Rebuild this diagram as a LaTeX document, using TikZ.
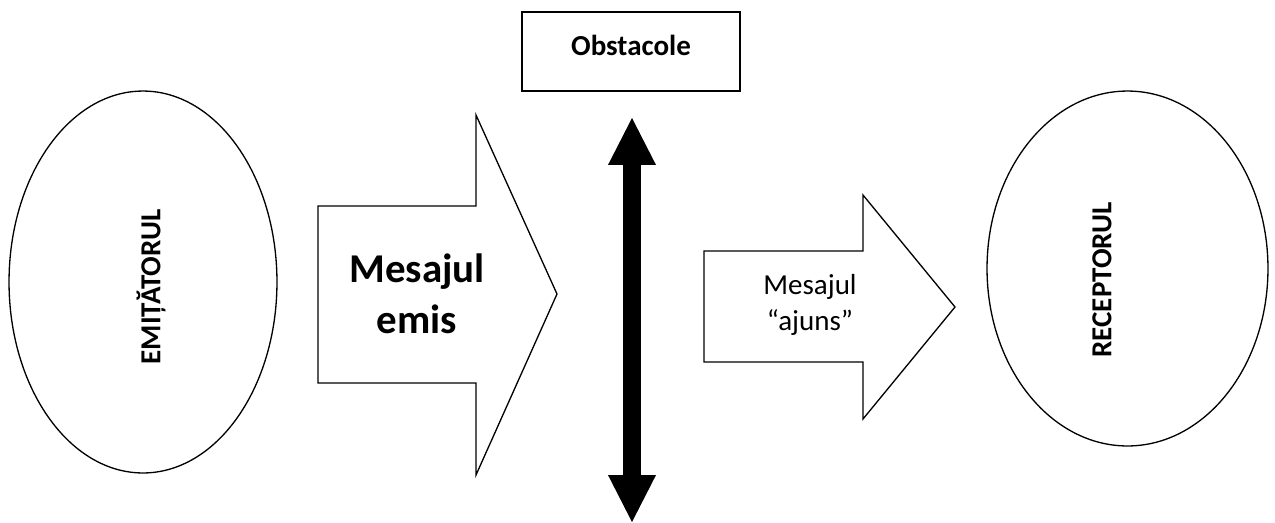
\documentclass[tikz,border=0pt]{standalone}
\usepackage{fontspec}
\setmainfont{Carlito}
\usetikzlibrary{arrows.meta, shapes.geometric}

\begin{document}
\begin{tikzpicture}[x=0.02cm, y=-0.02cm,
  oval/.style={draw, ellipse, line width=0.75pt, inner sep=0pt},
  vlabel/.style={rotate=90, inner sep=0pt, font=\bfseries\fontsize{16.5}{20}\selectfont},
  blockarrow/.style={draw, line width=0.75pt, line join=miter},
  msg/.style={align=center, inner sep=0pt}]
\useasboundingbox (0,0) rectangle (1275,522);

\coordinate (obsTop) at (632,118);
\coordinate (obsBot) at (632,522);

% sender and receiver
\node[oval, minimum width=5.36cm, minimum height=7.64cm] (emit) at (143,282) {};
\node[vlabel] (emitlbl) at (151,287) {EMIȚĂTORUL};
\node[oval, minimum width=5.62cm, minimum height=7.10cm] (recep) at (1127.5,268.5) {};
\node[vlabel] (receplbl) at (1102,280) {RECEPTORUL};

% the two block arrows
\draw[blockarrow] (318,206) -- (476,206) -- (476,115) -- (557,294)
  -- (476,475) -- (476,383) -- (318,383) -- cycle;
\node[msg, font=\bfseries\fontsize{23.3}{29}\selectfont] (emis) at (417,294) {Mesajul\\emis};

\draw[blockarrow] (704,251) -- (863,251) -- (863,195) -- (955,307)
  -- (863,419) -- (863,362) -- (704,362) -- cycle;
\node[msg, font=\fontsize{16.5}{20.5}\selectfont] (ajuns) at (810,305) {Mesajul\\“ajuns”};

% obstacles
\node[draw, line width=0.75pt, minimum width=4.36cm, minimum height=1.58cm, inner sep=0pt] (obst) at (631,51.5) {};
\node[inner sep=0pt, font=\bfseries\fontsize{16.5}{20}\selectfont] (obstlbl) at (631,45) {Obstacole};

\draw[line width=9.7pt, {Triangle[length=26.7pt, width=27.3pt, line width=0pt]}-{Triangle[length=26.7pt, width=27.3pt, line width=0pt]}] (obsTop) -- (obsBot);
\end{tikzpicture}
\end{document}
